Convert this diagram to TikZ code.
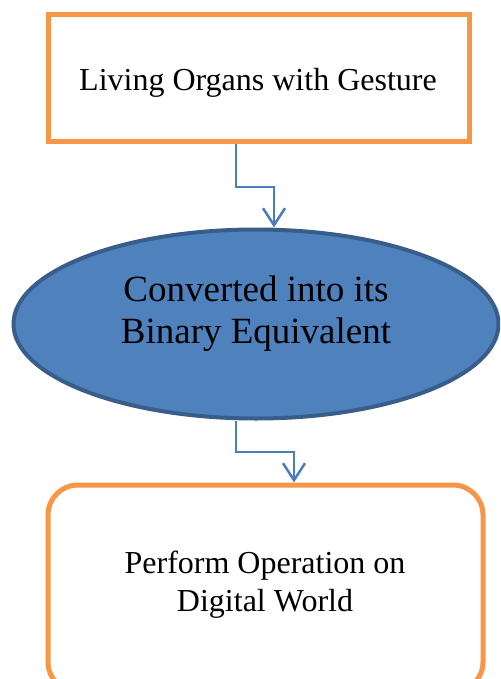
\documentclass[tikz,border=0pt]{standalone}
\usepackage{fontspec}
\setmainfont{Liberation Serif}
\usetikzlibrary{arrows.meta,shapes.geometric}
\definecolor{boxorange}{HTML}{F79646}
\definecolor{ellfill}{HTML}{4F81BD}
\definecolor{elldraw}{HTML}{385D8A}
\definecolor{connblue}{HTML}{4A7EBB}
\tikzset{
  orangebox/.style={draw=boxorange, line width=5pt, fill=white, inner sep=0pt},
  blueell/.style={ellipse, draw=elldraw, fill=ellfill, line width=4pt, inner sep=0pt},
  conn/.style={draw=connblue, line width=2.5pt, -{Straight Barb[length=17pt,width=22pt,line width=2.5pt]}},
  bodytext/.style={align=center, font=\fontsize{32}{38}\selectfont, text=black},
  elltext/.style={align=center, font=\fontsize{37}{42}\selectfont, text=black}
}
\begin{document}
\begin{tikzpicture}[x=1pt,y=-1pt]
\useasboundingbox (0,0) rectangle (500,679);
\clip (0,0) rectangle (500,679);
% top box
\node[orangebox, minimum width=421pt, minimum height=127pt] (a) at (258.5,78.5) {};
\node[bodytext] (at) at (258,83) {Living Organs with Gesture};
% ellipse
\node[blueell, minimum width=485pt, minimum height=189pt] (b) at (256,324) {};
\node[elltext] (bt) at (256,314) {Converted into its\\Binary Equivalent};
% bottom rounded box
\node[orangebox, rounded corners=30pt, minimum width=435pt, minimum height=207pt] (c) at (265.5,588.5) {};
\node[bodytext] (ct) at (265,585) {Perform Operation on\\Digital World};
% connectors
\coordinate (j1) at (236,187);
\coordinate (j2) at (274,187);
\draw[conn] (a.south -| j1) -- (j1) -- (j2) -- (b.north -| j2);
\coordinate (k1) at (236,452);
\coordinate (k2) at (294,452);
\draw[conn] (b.south -| k1) -- (k1) -- (k2) -- (c.north -| k2);
\end{tikzpicture}
\end{document}
